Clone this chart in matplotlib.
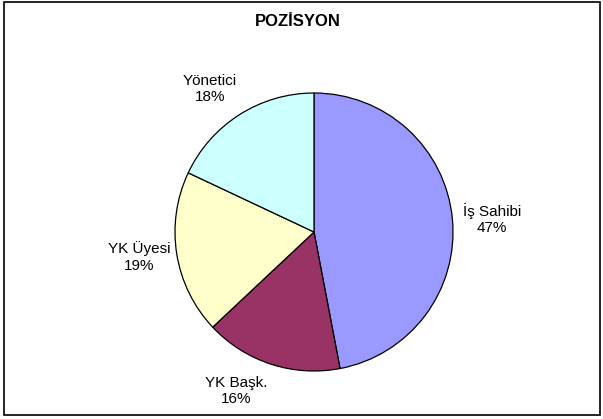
import matplotlib
matplotlib.use("Agg")
import matplotlib.pyplot as plt
from matplotlib.patches import Rectangle

plt.rcParams['font.family'] = ['Liberation Sans', 'DejaVu Sans']

categories = ["İş Sahibi", "YK Başk.", "YK Üyesi", "Yönetici"]
values = [47, 16, 19, 18]
colors = ["#9999FF", "#993366", "#FFFFCC", "#CCFFFF"]
label_pos = [(1.28, 0.094), (-0.561, -1.144), (-1.259, -0.18), (-0.748, 1.029)]

W, H = 603, 419
fig = plt.figure(figsize=(W / 100, H / 100), dpi=100)
fig.patch.set_facecolor("white")

# border
fig.add_artist(Rectangle((4 / W, 1 - 415 / H), 596 / W, 413 / H, transform=fig.transFigure,
                         fill=False, edgecolor="black", linewidth=1.2))

cx, cy, r = 314, 232, 139
ax = fig.add_axes([(cx - r) / W, (H - cy - r) / H, 2 * r / W, 2 * r / H])
ax.pie(values, colors=colors, startangle=90, counterclock=False, radius=1,
       wedgeprops=dict(edgecolor="black", linewidth=0.9))
ax.set_xlim(-1, 1)
ax.set_ylim(-1, 1)
ax.set_aspect("equal")
ax.axis("off")

for cat, v, (x, y) in zip(categories, values, label_pos):
    ax.text(x, y, f"{cat}\n{v}%", ha="center", va="center", fontsize=11,
            linespacing=1.25, clip_on=False)

fig.text(298 / W, 1 - 21 / H, "POZİSYON", ha="center", va="center",
         fontsize=12, fontweight="bold")

fig.savefig("out.png", dpi=100)
